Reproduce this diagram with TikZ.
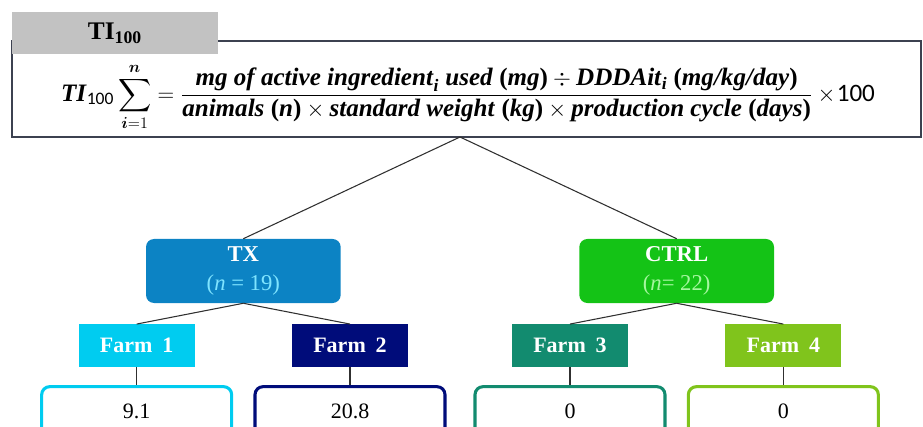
\documentclass[tikz,border=0pt]{standalone}
\usepackage{amsmath}
\usepackage{fontspec}
\setmainfont{Liberation Serif}
\newfontfamily\calibri{Carlito}
\usetikzlibrary{trees}

\definecolor{framegray}{HTML}{3C4150}
\definecolor{tabgray}{HTML}{C2C2C2}
\definecolor{linegray}{HTML}{303030}
\definecolor{txblue}{HTML}{0C83C4}
\definecolor{txlight}{HTML}{7FE4FF}
\definecolor{ctrlgreen}{HTML}{14C316}
\definecolor{ctrllight}{HTML}{A6F7A0}
\definecolor{farmcyan}{HTML}{00CCF0}
\definecolor{farmnavy}{HTML}{000C7A}
\definecolor{farmteal}{HTML}{128B6F}
\definecolor{farmlime}{HTML}{80C41C}

\newcommand{\bi}[1]{\textbf{\textit{#1}}}

\begin{document}
\begin{tikzpicture}[
        x=0.75pt, y=-0.75pt,
        grow=down,
        parent anchor=south,
        child anchor=north,
        edge from parent/.style={draw=linegray, line width=0.8pt},
        level 1/.style={level distance=100.5pt, sibling distance=325pt},
        level 2/.style={level distance=56pt, sibling distance=160pt},
        level 3/.style={level distance=49.5pt},
        group/.style={rounded corners=6pt, minimum width=146pt, minimum height=48pt,
            text=white, align=center, font=\fontsize{17}{21.5}\selectfont},
        farm/.style={minimum width=87pt, minimum height=32pt, text=white,
            font=\fontsize{16.5}{18}\selectfont\bfseries},
        result/.style={rounded corners=6pt, line width=2.3pt, fill=white,
            minimum width=142.5pt, minimum height=37.5pt,
            font=\fontsize{16.5}{18}\selectfont}
    ]
    \path[use as bounding box, clip] (0,0) rectangle (923,427);

    \node[draw=framegray, line width=1.1pt, minimum width=682pt, minimum height=72pt]
        (ti) at (466.5,89) {};
    \node[inner sep=0pt, font=\fontsize{18.8}{20}\selectfont] (formula) at (468,97)
        {$\bi{TI}_{\text{\calibri 100}}\displaystyle\sum_{\boldsymbol{i}=1}^{\boldsymbol{n}} =
        \frac{\bi{mg of active ingredient}_{\bi{i}}\ \bi{used}\ \textbf{(}\bi{mg}\textbf{)}
        \div \bi{DDDAit}_{\bi{i}}\ \textbf{(}\bi{mg/kg/day}\textbf{)}}
        {\bi{animals}\ \textbf{(}\bi{n}\textbf{)} \times \bi{standard weight}\ \textbf{(}\bi{kg}\textbf{)}
        \times \bi{production cycle}\ \textbf{(}\bi{days}\textbf{)}}
        \times\!\text{\calibri 100}$};
    \node[fill=tabgray, minimum width=154.5pt, minimum height=31.5pt,
        font=\fontsize{19}{21}\selectfont] (tab) at (115,33)
        {\textbf{TI}$_{\textbf{100}}$};

    \node[inner sep=0pt, outer sep=0pt, minimum size=0pt] (split) at (460,137) {}
    child {
            node[group, fill=txblue] (tx) {\textbf{TX}\\\color{txlight}(\textit{n} = 19)}
            child {
                    node[farm, fill=farmcyan] (f1) {Farm\hspace{0.45em}1}
                    child {node[result, draw=farmcyan] (r1) {9.1}}
                }
            child {
                    node[farm, fill=farmnavy] (f2) {Farm\hspace{0.45em}2}
                    child {node[result, draw=farmnavy] (r2) {20.8}}
                }
        }
    child {
            node[group, fill=ctrlgreen] (ctrl) {\textbf{CTRL}\\\color{ctrllight}(\textit{n}= 22)}
            child {
                    node[farm, fill=farmteal] (f3) {Farm\hspace{0.45em}3}
                    child {node[result, draw=farmteal] (r3) {0}}
                }
            child {
                    node[farm, fill=farmlime] (f4) {Farm\hspace{0.45em}4}
                    child {node[result, draw=farmlime] (r4) {0}}
                }
        };
\end{tikzpicture}
\end{document}
